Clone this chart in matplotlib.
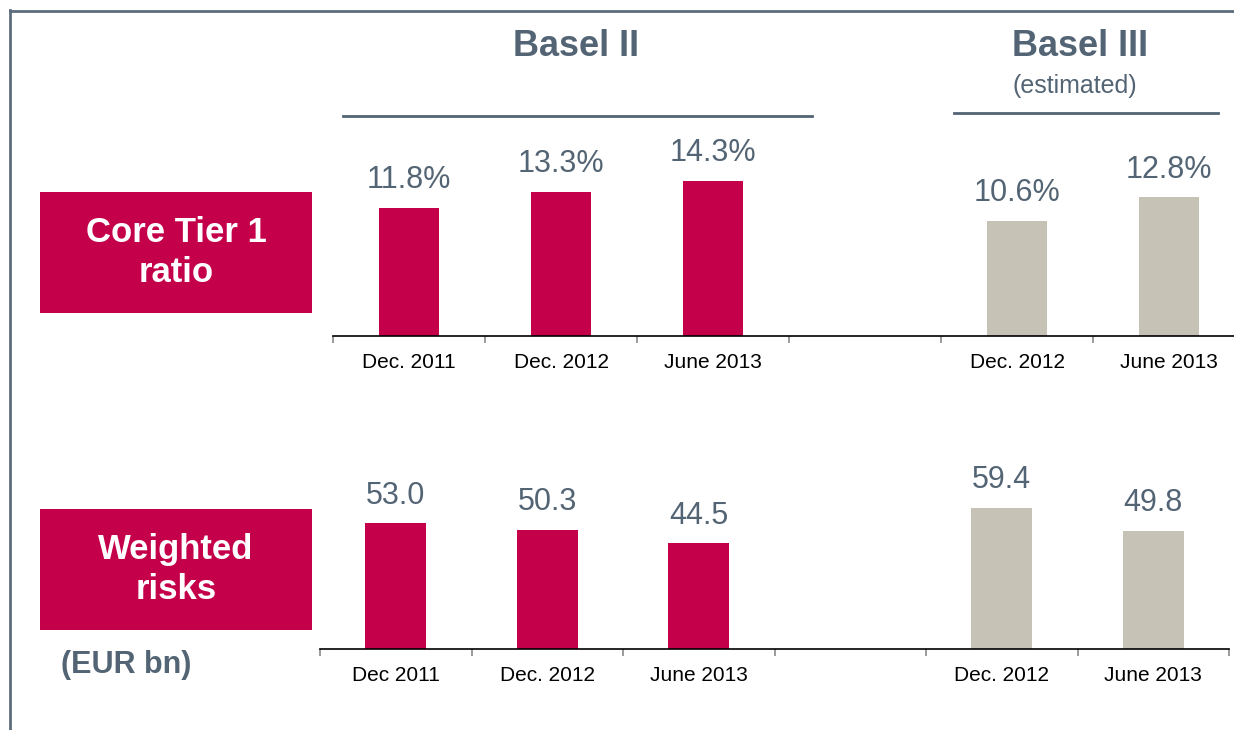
import matplotlib
matplotlib.use("Agg")
import matplotlib.pyplot as plt
from matplotlib.lines import Line2D
from matplotlib.patches import Rectangle

plt.rcParams['font.family'] = ['Liberation Sans', 'DejaVu Sans']

# ---- data ----
top_labels = ["Dec. 2011", "Dec. 2012", "June 2013", "", "Dec. 2012", "June 2013"]
bottom_labels = ["Dec 2011", "Dec. 2012", "June 2013", "", "Dec. 2012", "June 2013"]
ratio_basel2 = [11.8, 13.3, 14.3]
ratio_basel3 = [10.6, 12.8]
risk_basel2 = [53.0, 50.3, 44.5]
risk_basel3 = [59.4, 49.8]
pos_basel2 = [0, 1, 2]
pos_basel3 = [4, 5]

RED = "#C4004A"
GREY = "#C6C2B6"
TXT = "#536474"

W, H = 1234, 730
fig = plt.figure(figsize=(W / 100, H / 100), dpi=100)


def px_axes(left, base, width, height):
    return fig.add_axes([left / W, (H - base) / H, width / W, height / H])


def style(ax, labels, ymax):
    ax.set_xlim(-0.5, 5.5)
    ax.set_ylim(0, ymax)
    for s in ["top", "right", "left"]:
        ax.spines[s].set_visible(False)
    ax.spines["bottom"].set_color("black")
    ax.spines["bottom"].set_linewidth(1.2)
    ax.set_yticks([])
    ax.set_xticks(range(6))
    ax.set_xticklabels(labels, fontsize=15, color="black")
    ax.tick_params(axis="x", which="major", length=0, pad=12)
    ax.set_xticks([i - 0.5 for i in range(7)], minor=True)
    ax.tick_params(axis="x", which="minor", length=5, width=1.2, color="#8a8a8a", direction="out")
    ax.patch.set_alpha(0)


# top axes: Core Tier 1 ratio
ax1 = px_axes(333, 336, 912, 20 * 10.85)
style(ax1, top_labels, 20)
b = ax1.bar(pos_basel2, ratio_basel2, width=0.4, color=RED)
ax1.bar_label(b, labels=[f"{v:.1f}%" for v in ratio_basel2], padding=9, fontsize=22, color=TXT)
b = ax1.bar(pos_basel3, ratio_basel3, width=0.4, color=GREY)
ax1.bar_label(b, labels=[f"{v:.1f}%" for v in ratio_basel3], padding=9, fontsize=22, color=TXT)

# bottom axes: weighted risks
ax2 = px_axes(320, 649, 909, 80 * 2.375)
style(ax2, bottom_labels, 80)
b = ax2.bar(pos_basel2, risk_basel2, width=0.4, color=RED)
ax2.bar_label(b, labels=[f"{v:.1f}" for v in risk_basel2], padding=9, fontsize=22, color=TXT)
b = ax2.bar(pos_basel3, risk_basel3, width=0.4, color=GREY)
ax2.bar_label(b, labels=[f"{v:.1f}" for v in risk_basel3], padding=9, fontsize=22, color=TXT)


# ---- overlay annotations in pixel coordinates ----
def fx(x):
    return x / W


def fy(y):
    return (H - y) / H


# frame lines
fig.add_artist(Line2D([fx(10), fx(1240)], [fy(10.5), fy(10.5)], color="#5d6d7b", lw=2))
fig.add_artist(Line2D([fx(10.5), fx(10.5)], [fy(10), fy(735)], color="#5d6d7b", lw=2))

# red boxes
for (y0, y1, txt) in [(192, 313, "Core Tier 1\nratio"), (509, 630, "Weighted\nrisks")]:
    fig.add_artist(Rectangle((fx(40), fy(y1)), (312 - 40) / W, (y1 - y0) / H,
                             facecolor=RED, edgecolor="none"))
    fig.text(fx(176), fy((y0 + y1) / 2), txt, ha="center", va="center",
             fontsize=25, fontweight="bold", color="white", linespacing=1.25)

fig.text(fx(126), fy(665), "(EUR bn)", ha="center", va="center",
         fontsize=22, fontweight="bold", color=TXT)

# headers
fig.text(fx(576), fy(46), "Basel II", ha="center", va="center",
         fontsize=26, fontweight="bold", color=TXT)
fig.add_artist(Line2D([fx(343), fx(812)], [fy(116), fy(116)], color=TXT, lw=2))
fig.text(fx(1080), fy(47), "Basel III", ha="center", va="center",
         fontsize=26, fontweight="bold", color=TXT)
fig.text(fx(1075), fy(86), "(estimated)", ha="center", va="center",
         fontsize=18, color=TXT)
fig.add_artist(Line2D([fx(954), fx(1218)], [fy(113), fy(113)], color=TXT, lw=2))

fig.savefig("out.png", dpi=100, facecolor="white")
